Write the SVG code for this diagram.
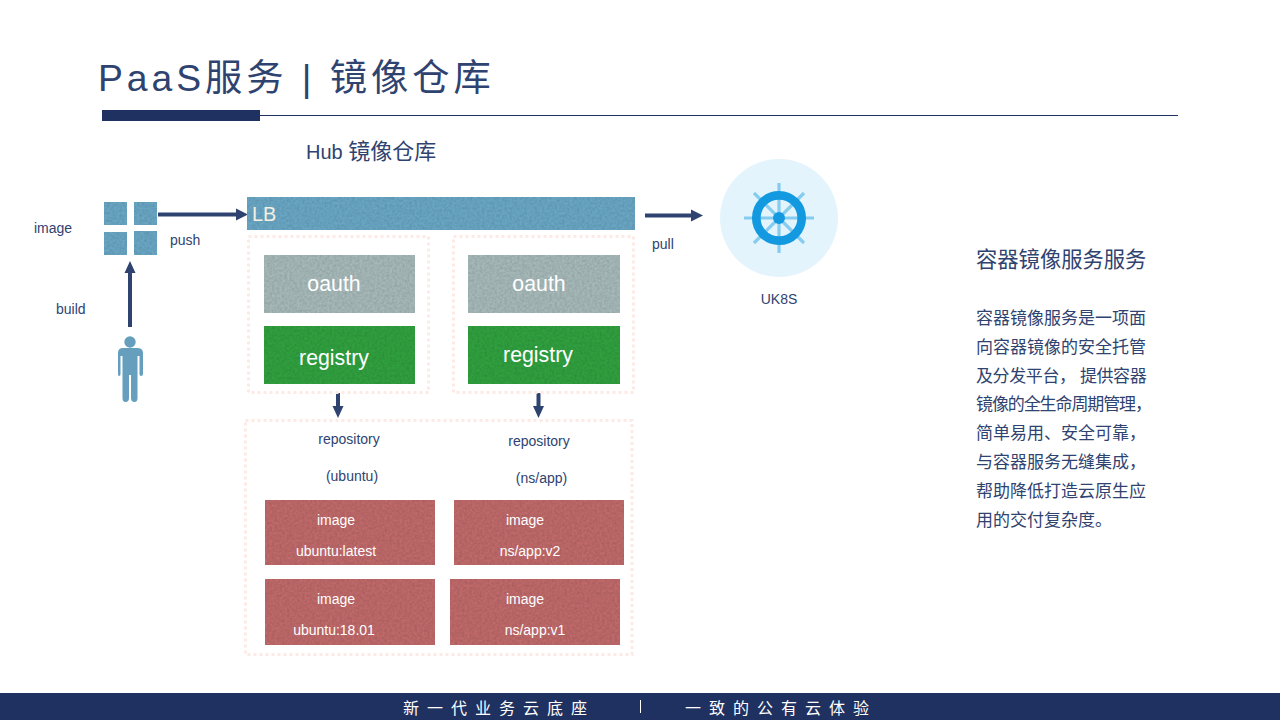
<svg xmlns="http://www.w3.org/2000/svg" width="1280" height="720" viewBox="0 0 1280 720">
<defs>
<filter id="tex" x="0" y="0" width="100%" height="100%" color-interpolation-filters="sRGB">
<feTurbulence type="fractalNoise" baseFrequency="0.4" numOctaves="2" seed="4" result="n"/>
<feColorMatrix in="n" type="matrix" values="0 0 0 0 0  0 0 0 0 0  0 0 0 0 0  0.2 0 0 0 -0.06" result="d"/>
<feComposite in="d" in2="SourceGraphic" operator="in" result="dc"/>
<feMerge><feMergeNode in="SourceGraphic"/><feMergeNode in="dc"/></feMerge>
</filter>
</defs>
<style>
text{font-family:"Liberation Sans","Noto Sans CJK SC",sans-serif;fill:#2f4370}
.sm{font-size:14px}
.w{fill:#fff}
.lg{font-size:21.3px;fill:#fff}
.dash{fill:none;stroke:#fdeae6;stroke-width:3;stroke-dasharray:3 3}
.blue{fill:#69a6c4}.grey{fill:#a6b8b8}.green{fill:#30a03f}.red{fill:#bf696a}
.tx{filter:url(#tex)}
.solid{fill:#659fbd}
.conn{stroke:#2f4370;stroke-width:4;fill:none}
.head{fill:#2f4370}
.body{font-size:17px;fill:#2f4370}
</style>
<rect width="1280" height="720" fill="#fff"/>
<g id="header">
<text x="98" y="91" font-size="37.3" letter-spacing="3.95">PaaS服务 | 镜像仓库</text>
<rect x="102" y="110" width="158" height="11" fill="#1f3160"/>
<line x1="260" y1="115.500" x2="1178" y2="115.500" stroke="#1f3160" stroke-width="1"/>
<text x="306" y="159" font-size="20">Hub <tspan font-size="22">镜像仓库</tspan></text>
</g>
<g id="connectors">
<line class="conn" x1="158" y1="214.500" x2="236" y2="214.500"/><polygon class="head" points="236,208.500 248,214.500 236,220.500"/>
<line class="conn" x1="130" y1="327" x2="130" y2="273"/><polygon class="head" points="124.500,273 130,261 135.500,273"/>
<line class="conn" x1="645" y1="215.500" x2="692" y2="215.500"/><polygon class="head" points="691,209.500 703,215.500 691,221.500"/>
<line class="conn" x1="338" y1="393" x2="338" y2="407"/><polygon class="head" points="332.500,406 338,418 343.500,406"/>
<line class="conn" x1="538.500" y1="393" x2="538.500" y2="407"/><polygon class="head" points="533,406 538.500,418 544,406"/>
</g>
<g id="image-stack">
<rect class="blue tx" x="104" y="202" width="23" height="23"/><rect class="blue tx" x="134" y="202" width="23" height="23"/>
<rect class="blue tx" x="104" y="232" width="23" height="23"/><rect class="blue tx" x="134" y="231" width="23" height="24"/>
<text class="sm" x="34" y="233">image</text>
<text class="sm" x="170" y="245">push</text>
</g>
<g id="user">
<circle class="solid" cx="130" cy="342" r="5.700"/>
<path class="solid" d="M123 348H137Q143 348 143 353V374Q143 376 141 376Q139.500 376 139.500 374V356H137.500V398Q137.500 402 134.500 402Q131 402 131 398V375H129V398Q129 402 125.500 402Q122.500 402 122.500 398V356H120.500V374Q120.500 376 119 376Q118 376 118 374V353Q118 348 123 348Z"/>
<text class="sm" x="56" y="314">build</text>
</g>
<g id="lb">
<rect class="blue tx" x="247" y="197" width="388" height="33"/>
<text x="252" y="221" font-size="20" style="fill:#f5f0e0">LB</text>
</g>
<g id="pull-label"><text class="sm" x="652" y="249">pull</text></g>
<g id="uk8s">
<circle cx="779" cy="218" r="59" fill="#e4f4fc"/>
<g stroke="#84cdf0" stroke-width="3.200">
<line x1="744" y1="218" x2="814" y2="218"/><line x1="779" y1="183" x2="779" y2="253"/>
<line x1="754" y1="193" x2="804" y2="243"/><line x1="804" y1="193" x2="754" y2="243"/>
</g>
<circle cx="779" cy="218" r="22.700" fill="none" stroke="#1399e0" stroke-width="8.700"/>
<circle cx="779" cy="218" r="6" fill="#1399e0"/>
<text class="sm" x="779" y="304" text-anchor="middle">UK8S</text>
</g>
<g id="service-left">
<rect class="dash" x="248.500" y="236.500" width="180" height="156"/>
<rect class="grey tx" x="264" y="255" width="151" height="58"/>
<text class="lg" x="334" y="291" text-anchor="middle">oauth</text>
<rect class="green tx" x="264" y="326" width="151" height="58"/>
<text class="lg" x="334" y="365" text-anchor="middle">registry</text>
</g>
<g id="service-right">
<rect class="dash" x="453.500" y="236.500" width="180" height="156"/>
<rect class="grey tx" x="468" y="255" width="152" height="58"/>
<text class="lg" x="539" y="291" text-anchor="middle">oauth</text>
<rect class="green tx" x="468" y="326" width="152" height="58"/>
<text class="lg" x="538" y="362" text-anchor="middle">registry</text>
</g>
<g id="repositories">
<rect class="dash" x="245.500" y="420.500" width="386.500" height="234"/>
<text class="sm" x="349" y="444" text-anchor="middle">repository</text>
<text class="sm" x="352" y="481" text-anchor="middle">(ubuntu)</text>
<text class="sm" x="539" y="446" text-anchor="middle">repository</text>
<text class="sm" x="541.500" y="483" text-anchor="middle">(ns/app)</text>
</g>
<g id="image-ubuntu-latest">
<rect class="red tx" x="265" y="500" width="170" height="65"/>
<text class="sm w" x="336" y="525" text-anchor="middle">image</text>
<text class="sm w" x="336" y="556" text-anchor="middle">ubuntu:latest</text>
</g>
<g id="image-ns-app-v2">
<rect class="red tx" x="454" y="500" width="170" height="65"/>
<text class="sm w" x="525" y="525" text-anchor="middle">image</text>
<text class="sm w" x="530" y="556" text-anchor="middle">ns/app:v2</text>
</g>
<g id="image-ubuntu-18">
<rect class="red tx" x="265" y="579" width="170" height="66"/>
<text class="sm w" x="336" y="604" text-anchor="middle">image</text>
<text class="sm w" x="334" y="635" text-anchor="middle">ubuntu:18.01</text>
</g>
<g id="image-ns-app-v1">
<rect class="red tx" x="450" y="579" width="170" height="66"/>
<text class="sm w" x="525" y="604" text-anchor="middle">image</text>
<text class="sm w" x="535" y="635" text-anchor="middle">ns/app:v1</text>
</g>
<g id="description">
<text x="976" y="267" font-size="21.300">容器镜像服务服务</text>
<text class="body" x="976" y="323.500">容器镜像服务是一项面</text>
<text class="body" x="976" y="352.500">向容器镜像的安全托管</text>
<text class="body" x="976" y="381.500" letter-spacing="-0.4">及分发平台， 提供容器</text>
<text class="body" x="976" y="409.500" letter-spacing="-1.1">镜像的全生命周期管理，</text>
<text class="body" x="976" y="438.500">简单易用、安全可靠，</text>
<text class="body" x="976" y="467.500">与容器服务无缝集成，</text>
<text class="body" x="976" y="496.500">帮助降低打造云原生应</text>
<text class="body" x="976" y="525.500">用的交付复杂度。</text>
</g>
<g id="footer">
<rect x="0" y="693" width="1280" height="27" fill="#1f3160"/>
<text class="w" x="403" y="714" font-size="16" letter-spacing="8">新一代业务云底座</text>
<line x1="640.500" y1="700" x2="640.500" y2="713" stroke="#fff" stroke-width="1"/>
<text class="w" x="685" y="714" font-size="16" letter-spacing="8">一致的公有云体验</text>
</g>
</svg>
